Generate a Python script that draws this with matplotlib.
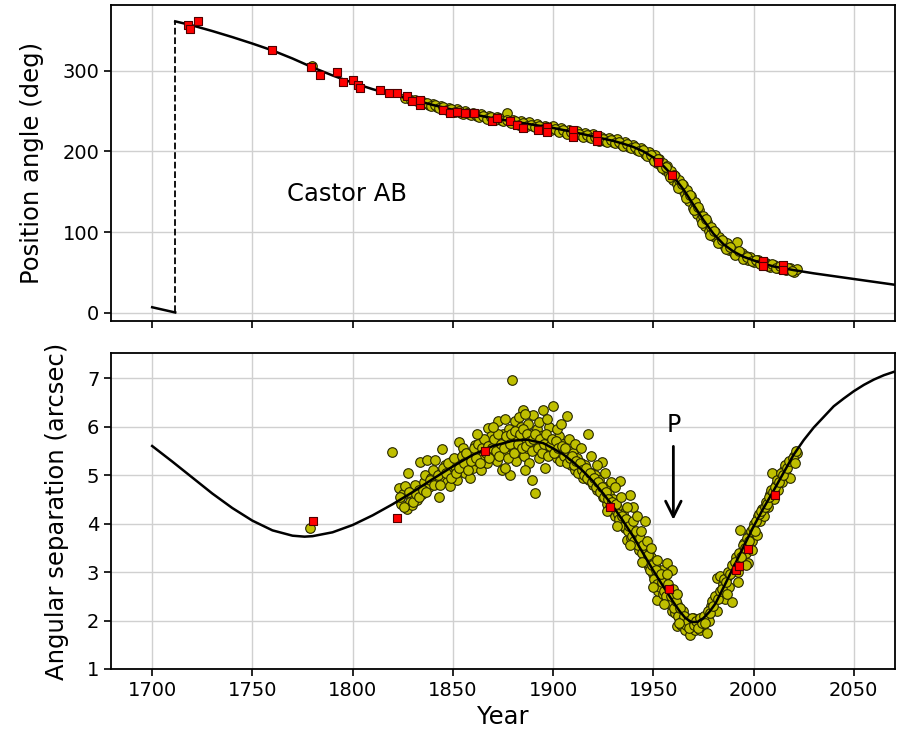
import matplotlib
matplotlib.use('Agg')
import matplotlib.pyplot as plt

# orbit curve: position angle (deg)
pa_wrap_year = [1700, 1711.5]
pa_wrap = [7, 0.5]
pa_jump = [0.5, 360.5]
orb_year = [1711.5, 1720, 1730, 1740, 1750, 1760, 1770, 1780, 1790, 1800, 1810, 1820,
            1830, 1840, 1850, 1860, 1870, 1880, 1890, 1900, 1910, 1920, 1930, 1935,
            1940, 1945, 1950, 1955, 1960, 1965, 1970, 1975, 1980, 1985, 1990, 1995,
            2000, 2005, 2010, 2020, 2030, 2040, 2050, 2060, 2070]
orb_pa = [361, 356, 349, 341.5, 333.5, 325, 315, 304, 294, 285, 277, 270,
          264, 257.5, 251.5, 246, 241, 237, 233, 229, 224, 218.5, 213, 209.5,
          205.5, 200, 192.5, 182, 169, 153, 134, 115, 98, 85, 76, 69.5,
          65, 61, 57.5, 53, 49, 45.5, 42, 38.5, 35]

# orbit curve: separation (arcsec)
sep_year = [1700, 1710, 1720, 1730, 1740, 1750, 1760, 1770, 1776, 1780, 1790, 1800,
            1810, 1820, 1830, 1840, 1850, 1860, 1870, 1880, 1887, 1895, 1900, 1905,
            1910, 1915, 1920, 1925, 1930, 1935, 1940, 1945, 1950, 1955, 1960, 1963,
            1966, 1969, 1972, 1975, 1978, 1981, 1985, 1990, 1995, 2000, 2005, 2010,
            2015, 2020, 2025, 2030, 2035, 2040, 2045, 2050, 2055, 2060, 2065, 2070]
orb_sep = [5.60, 5.28, 4.95, 4.62, 4.32, 4.06, 3.86, 3.75, 3.73, 3.74, 3.82, 3.97,
           4.17, 4.40, 4.65, 4.92, 5.18, 5.42, 5.60, 5.71, 5.73, 5.66, 5.55, 5.43,
           5.27, 5.08, 4.87, 4.62, 4.35, 4.05, 3.73, 3.38, 3.03, 2.70, 2.38, 2.20,
           2.05, 1.97, 1.97, 2.05, 2.18, 2.35, 2.68, 3.10, 3.52, 3.94, 4.32, 4.68,
           5.05, 5.42, 5.72, 5.98, 6.20, 6.42, 6.58, 6.73, 6.86, 6.97, 7.06, 7.13]

# micrometer measures (yellow) - position angle
obs_pa_year = [1779.5, 1832, 1835, 1838, 1840, 1842, 1844, 1846, 1848, 1850, 1852, 1854,
               1856, 1858, 1860, 1862, 1864, 1866, 1868, 1870, 1872, 1874, 1876.9, 1878,
               1880, 1882, 1884, 1886, 1888, 1890, 1892, 1894, 1896, 1898, 1900, 1902,
               1904, 1906, 1908, 1910, 1912, 1914, 1916, 1918, 1920, 1922, 1924, 1926,
               1928, 1930, 1932, 1934, 1936, 1938, 1940, 1942, 1944, 1946, 1948, 1950,
               1951, 1952, 1953, 1954, 1955, 1956, 1957, 1958, 1959, 1960, 1961, 1962,
               1963, 1964, 1965, 1966, 1967, 1968, 1969, 1970, 1971, 1972, 1973, 1974,
               1975, 1976, 1977, 1978, 1979, 1980, 1981, 1982, 1983, 1984, 1985, 1986,
               1987, 1988, 1989, 1990, 1991.6, 1992, 1993, 1994, 1995, 1996, 1997, 1998,
               2000, 2002, 2004, 2006, 2008, 2010, 2012, 2014, 2016, 2018, 2020, 2021.5,
               1826, 1829, 1831, 1834, 1837, 1839, 1841, 1843, 1845, 1847, 1849, 1851,
               1853, 1855, 1857, 1859, 1861, 1863, 1865, 1867, 1869, 1871, 1873, 1875,
               1877, 1879, 1881, 1883, 1885, 1887, 1889, 1891, 1893, 1895, 1897, 1899,
               1901, 1903, 1905, 1907, 1909, 1911, 1913, 1915, 1917, 1919, 1921, 1923,
               1925, 1927, 1929, 1931, 1933, 1935, 1937, 1939, 1941, 1943, 1945, 1947,
               1949, 1950.5, 1952.5, 1954.5, 1956.5, 1958.5, 1960.5, 1962.5, 1964.5, 1966.5,
               1968.5, 1970.5, 1972.5, 1974.5, 1976.5, 1978.5, 1980.5, 1982.5, 1984.5, 1986.5,
               1988.5, 1990.5, 1992.5, 1994.5, 1996.5, 1999, 2001, 2003, 2005, 2007,
               2009, 2011, 2013, 2015, 2017, 2019]
obs_pa = [306, 262, 261, 258, 259, 255, 256, 253, 254, 250, 252, 248,
          250, 246, 248, 244, 246, 242, 244, 240, 243, 239, 247, 238,
          239, 235, 237, 233, 236, 231, 234, 230, 232, 227, 231, 227,
          229, 224, 227, 222, 225, 220, 223, 218, 221, 215, 218, 213,
          217, 211, 215, 209, 212, 205, 208, 202, 204, 197, 199, 190,
          195, 186, 190, 182, 186, 177, 182, 172, 176, 165, 170, 160,
          164, 153, 158, 147, 152, 139, 145, 130, 137, 123, 128, 116,
          120, 108, 112, 102, 106, 95, 100, 91, 94, 86, 89, 82,
          86, 78, 81, 74, 88, 75, 72, 74, 68, 71, 66, 69,
          63, 65, 60, 62, 57, 59, 55, 57, 53, 55, 51, 54,
          266, 263, 264, 259, 260, 256, 257, 254, 255, 251, 252, 249,
          250, 246, 248, 245, 246, 243, 244, 240, 242, 239, 241, 237,
          239, 235, 237, 233, 235, 232, 233, 230, 232, 228, 230, 226,
          228, 224, 226, 222, 224, 220, 222, 218, 220, 216, 218, 213,
          215, 211, 214, 210, 212, 207, 209, 204, 206, 200, 202, 194,
          196, 188, 190, 180, 181, 168, 171, 155, 160, 142,
          146, 128, 131, 111, 116, 96, 101, 86, 90, 79,
          82, 72, 77, 67, 69, 64, 66, 61, 63, 58,
          60, 56, 58, 54, 56, 52]

# micrometer measures (yellow) - separation
obs_sep_year = [1778.8, 1819.6, 1822.9, 1824.0, 1825.0, 1826.2, 1827.0, 1827.8, 1828.5, 1829.5,
                1830.5, 1831.0, 1832.0, 1833.0, 1833.7, 1834.5, 1835.5, 1836.0, 1837.0, 1838.0,
                1839.0, 1840.0, 1841.1, 1842.0, 1843.3, 1844.0, 1844.5, 1845.5, 1846.0, 1847.0,
                1848.0, 1848.6, 1849.5, 1850.0, 1851.0, 1852.0, 1853.3, 1854.0, 1855.3, 1856.0,
                1857.0, 1858.0, 1858.6, 1859.5, 1860.0, 1861.1, 1862.0, 1863.0, 1864.0, 1865.0,
                1866.0, 1867.0, 1867.7, 1868.5, 1869.0, 1870.0, 1871.0, 1872.0, 1872.7, 1873.5,
                1874.4, 1875.0, 1876.0, 1877.0, 1878.0, 1878.6, 1879.4, 1880.0, 1881.0, 1881.5,
                1882.0, 1883.0, 1884.0, 1884.9, 1885.5, 1886.0, 1887.0, 1887.5, 1888.0, 1889.0,
                1889.4, 1890.2, 1891.0, 1891.5, 1892.0, 1893.0, 1894.0, 1895.2, 1896.0, 1897.0,
                1898.0, 1899.0, 1900.1, 1901.0, 1902.0, 1903.0, 1904.0, 1905.0, 1906.8, 1907.5,
                1908.0, 1909.0, 1910.0, 1911.0, 1912.0, 1913.0, 1914.0, 1915.0, 1916.0, 1917.6,
                1918.0, 1919.0, 1920.0, 1921.0, 1922.0, 1923.0, 1924.3, 1925.0, 1926.0, 1927.0,
                1928.0, 1929.0, 1930.0, 1931.0, 1932.0, 1933.4, 1934.0, 1935.0, 1936.0, 1936.7,
                1937.0, 1938.4, 1939.0, 1940.0, 1941.0, 1942.0, 1943.0, 1944.0, 1945.9, 1946.0,
                1947.0, 1948.0, 1949.0, 1950.0, 1951.0, 1951.6, 1952.5, 1953.0, 1954.2, 1955.0,
                1956.0, 1956.7, 1957.0, 1958.0, 1959.2, 1959.5, 1960.0, 1961.0, 1961.6, 1962.0,
                1963.0, 1964.0, 1965.0, 1966.0, 1966.7, 1967.0, 1968.3, 1969.0, 1970.0, 1971.0,
                1972.0, 1973.3, 1974.0, 1975.0, 1976.6, 1977.0, 1978.0, 1979.0, 1979.9, 1980.5,
                1981.6, 1982.0, 1983.3, 1984.0, 1985.0, 1986.0, 1987.0, 1988.0, 1989.1, 1990.0,
                1991.0, 1992.0, 1993.3, 1994.0, 1995.0, 1996.0, 1997.4, 1998.0, 1999.0, 2000.0,
                2001.6, 2002.0, 2003.0, 2004.0, 2005.0, 2006.0, 2007.0, 2008.0, 2009.0, 2010.0,
                2011.0, 2012.0, 2013.0, 2014.0, 2015.0, 2016.0, 2017.0, 2018.2, 2019.0, 2020.0,
                2021.5,
                1823.5, 1825.5, 1828.0, 1830.0, 1831.5, 1833.0, 1835.0, 1836.5, 1838.5, 1840.5,
                1842.5, 1843.5, 1845.0, 1846.5, 1847.5, 1849.0, 1850.5, 1851.5, 1853.0, 1854.5,
                1855.5, 1856.5, 1857.5, 1859.0, 1860.5, 1861.5, 1862.5, 1863.5, 1864.5, 1865.5,
                1866.5, 1867.5, 1868.0, 1869.5, 1870.5, 1871.5, 1872.5, 1873.0, 1874.0, 1875.5,
                1876.5, 1877.5, 1878.5, 1879.0, 1880.5, 1881.0, 1882.5, 1883.5, 1884.5, 1885.0,
                1886.5, 1887.0, 1888.5, 1889.5, 1890.0, 1891.0, 1892.5, 1893.5, 1894.5, 1895.5,
                1896.5, 1897.5, 1898.5, 1899.5, 1900.5, 1901.5, 1902.5, 1903.5, 1904.5, 1905.5,
                1906.0, 1907.0, 1908.5, 1909.5, 1910.5, 1911.5, 1912.5, 1913.5, 1914.5, 1915.5,
                1916.5, 1917.0, 1918.5, 1919.5, 1920.5, 1921.5, 1922.5, 1923.5, 1924.5, 1925.5,
                1926.5, 1927.5, 1928.5, 1929.5, 1930.5, 1931.5, 1932.5, 1933.0, 1934.5, 1935.5,
                1936.5, 1937.5, 1938.0, 1939.5, 1940.5, 1941.5, 1942.5, 1943.5, 1944.5, 1945.0,
                1946.5, 1947.5, 1948.5, 1949.5, 1950.5, 1951.5, 1952.0, 1953.5, 1954.5, 1955.5,
                1956.5, 1957.5, 1958.5, 1959.0, 1960.5, 1961.5, 1962.5, 1963.5, 1964.5, 1965.5,
                1966.5, 1967.5, 1968.0, 1969.5, 1970.5, 1971.5, 1972.5, 1973.5, 1974.5, 1975.5,
                1976.0, 1977.5, 1978.5, 1979.5, 1980.0, 1981.0, 1982.5, 1983.5, 1984.5, 1985.5,
                1986.5, 1987.5, 1988.5, 1989.5, 1990.5, 1991.5, 1992.5, 1993.5, 1994.5, 1995.5,
                1996.5, 1997.5, 1998.5, 1999.5, 2000.5, 2001.0, 2002.5, 2003.5, 2005.5, 2006.5,
                2007.5, 2008.5, 2009.5, 2010.5, 2011.5, 2012.5, 2013.5, 2014.5, 2015.5, 2016.5,
                2017.5, 2019.5, 2020.5, 2021.0,
                1902.0, 1904.0, 1908.0, 1911.0, 1914.0, 1919.0, 1922.0, 1926.0, 1929.0, 1931.0,
                1934.0, 1937.0, 1940.0, 1942.0, 1944.0, 1947.0, 1949.0, 1952.0, 1954.0, 1957.0,
                1960.0, 1962.0, 1944.5, 1938.5, 1932.0, 1927.0, 1950.0, 1955.5, 1963.0, 1987.0,
                1992.0, 1996.0, 1999.0, 1862.0, 1870.0, 1876.0, 1883.0, 1886.0, 1893.0, 1897.0,
                1876.0, 1886.0, 1896.0]
obs_sep = [3.91, 5.47, 4.73, 4.40, 4.62, 4.77, 4.30, 5.04, 4.45, 4.39,
           4.58, 4.80, 4.49, 4.70, 5.28, 4.62, 4.85, 5.00, 5.32, 4.75,
           4.95, 5.10, 5.32, 4.88, 4.55, 5.05, 5.54, 4.95, 5.20, 4.85,
           5.10, 4.77, 5.30, 5.00, 5.18, 4.90, 5.69, 5.25, 5.56, 5.05,
           5.35, 5.20, 4.94, 5.45, 5.15, 5.62, 5.30, 5.50, 5.10, 5.40,
           5.65, 5.25, 5.97, 5.50, 5.80, 5.40, 5.65, 5.30, 6.11, 5.55,
           5.11, 5.85, 5.45, 5.70, 5.95, 5.00, 6.96, 5.60, 6.11, 5.30,
           5.80, 5.50, 6.00, 6.35, 5.40, 5.75, 5.55, 6.05, 5.25, 5.85,
           4.90, 6.24, 4.63, 5.60, 5.95, 5.35, 5.80, 6.35, 5.50, 5.70,
           6.00, 5.45, 6.43, 5.60, 5.35, 5.80, 5.45, 5.65, 6.21, 5.30,
           5.50, 5.20, 5.45, 5.10, 5.35, 5.15, 5.25, 4.95, 5.20, 5.85,
           4.90, 5.05, 4.80, 5.00, 4.70, 4.90, 5.28, 4.55, 4.75, 4.40,
           4.60, 4.25, 4.50, 4.15, 4.35, 4.87, 4.05, 4.20, 3.90, 3.67,
           4.05, 4.59, 3.70, 4.35, 3.60, 3.80, 3.45, 3.60, 4.06, 3.30,
           3.40, 3.10, 3.30, 2.95, 3.15, 2.43, 2.60, 2.90, 3.05, 2.55,
           2.80, 3.19, 2.45, 2.60, 3.05, 2.20, 2.45, 2.15, 1.88, 2.35,
           2.05, 1.90, 2.20, 1.80, 1.95, 2.05, 1.71, 1.90, 2.05, 1.80,
           1.95, 1.81, 2.05, 1.90, 1.75, 2.10, 2.00, 2.30, 2.22, 2.45,
           2.88, 2.20, 2.91, 2.50, 2.75, 2.45, 2.90, 2.70, 2.39, 3.05,
           3.30, 3.00, 3.87, 3.35, 3.60, 3.40, 3.19, 3.80, 3.65, 4.00,
           3.77, 4.15, 4.05, 4.30, 4.15, 4.45, 4.35, 4.60, 5.04, 4.50,
           4.80, 4.70, 4.95, 4.85, 5.10, 5.00, 5.25, 4.94, 5.30, 5.40,
           5.45,
           4.55, 4.35, 4.65, 4.45, 4.60, 4.55, 4.70, 4.65, 4.90, 4.80,
           5.00, 4.80, 5.15, 5.05, 5.25, 4.95, 5.35, 5.05, 5.15, 5.40,
           5.25, 5.45, 5.10, 5.30, 5.55, 5.35, 5.65, 5.25, 5.55, 5.75,
           5.45, 5.60, 5.35, 5.55, 5.75, 5.50, 5.85, 5.40, 5.65, 5.55,
           5.80, 5.35, 5.65, 5.85, 5.45, 5.90, 5.65, 5.85, 5.55, 5.95,
           5.60, 5.85, 5.70, 5.50, 5.75, 5.85, 5.55, 5.75, 5.45, 5.65,
           5.85, 5.40, 5.60, 5.75, 5.45, 5.70, 5.55, 5.30, 5.60, 5.40,
           5.55, 5.25, 5.35, 5.40, 5.20, 5.30, 5.05, 5.25, 5.10, 5.00,
           5.15, 4.95, 5.05, 4.85, 4.95, 4.75, 4.85, 4.65, 4.75, 4.55,
           4.65, 4.50, 4.35, 4.45, 4.30, 4.40, 4.20, 4.10, 4.15, 3.95,
           4.10, 3.85, 3.95, 3.75, 3.65, 3.85, 3.55, 3.70, 3.40, 3.55,
           3.20, 3.35, 3.05, 3.15, 2.85, 3.05, 2.75, 2.70, 2.80, 2.60,
           2.50, 2.75, 2.35, 2.50, 2.25, 2.40, 2.10, 2.25, 2.00, 2.10,
           1.90, 2.00, 1.85, 2.05, 1.90, 2.00, 1.85, 2.05, 1.95, 2.10,
           1.95, 2.20, 2.15, 2.40, 2.30, 2.50, 2.45, 2.60, 2.65, 2.85,
           2.80, 3.00, 2.95, 3.15, 3.20, 3.10, 3.40, 3.30, 3.55, 3.50,
           3.70, 3.65, 3.85, 3.90, 3.85, 4.05, 4.20, 4.25, 4.35, 4.40,
           4.55, 4.70, 4.65, 4.75, 4.90, 4.85, 5.05, 5.00, 5.20, 5.15,
           5.30, 5.35, 5.25, 5.50,
           5.95, 6.05, 5.75, 5.65, 5.55, 5.40, 5.20, 5.05, 4.85, 4.75,
           4.55, 4.35, 4.05, 4.15, 3.85, 3.65, 3.50, 3.25, 2.95, 2.95,
           2.65, 2.55, 3.20, 3.55, 3.95, 4.25, 2.70, 2.35, 1.95, 2.55,
           2.80, 3.15, 3.45, 5.85, 6.00, 6.15, 6.20, 6.25, 6.10, 6.15,
           5.15, 5.10, 5.15]

# other measures (red squares)
red_pa_year = [1718.1, 1718.9, 1723.1, 1759.7, 1779.1, 1783.8, 1792.1, 1795.4, 1800.4, 1802.9,
               1803.7, 1813.7, 1817.9, 1822.0, 1827.0, 1829.5, 1833.7, 1833.7, 1845.3, 1848.6,
               1852.0, 1856.1, 1860.3, 1869.4, 1871.9, 1878.6, 1881.9, 1885.2, 1892.7, 1896.9,
               1896.9, 1910.1, 1910.1, 1921.8, 1921.8, 1952.5, 1959.2, 2004.9, 2004.9, 2014.9,
               2014.9]
red_pa = [356, 352, 362, 325.5, 305, 294.5, 298.5, 286, 288, 282,
          278, 276, 272, 272, 268, 262, 257.5, 264, 251, 247,
          249, 247, 247, 237, 241, 237, 233, 229, 226.5, 230.5,
          224.5, 226, 218, 220, 213, 187, 171, 63.8, 57.6, 59.7,
          52.7]
red_sep_year = [1780.0, 1822.3, 1866.0, 1928.4, 1957.8, 1991.0, 1992.9, 1997.4, 2010.8]
red_sep = [4.05, 4.12, 5.49, 4.34, 2.65, 3.05, 3.13, 3.48, 4.59]

fig = plt.figure(figsize=(9.03, 7.43), dpi=100)
ax1 = fig.add_axes([0.123, 0.568, 0.868, 0.425])
ax2 = fig.add_axes([0.123, 0.0996, 0.868, 0.4254], sharex=ax1)

yel = dict(marker='o', s=48, c='y', edgecolors='#262600', linewidths=0.8, zorder=2)
red = dict(marker='s', s=40, c='r', edgecolors='#500000', linewidths=0.8, zorder=4)

# top panel
ax1.scatter(obs_pa_year, obs_pa, **yel)
ax1.plot(pa_wrap_year, pa_wrap, 'k-', lw=1.8, zorder=3)
ax1.plot([pa_wrap_year[-1], pa_wrap_year[-1]], pa_jump, 'k--', lw=1.3, zorder=3)
ax1.plot(orb_year, orb_pa, 'k-', lw=1.8, zorder=3)
ax1.scatter(red_pa_year, red_pa, **red)
ax1.text(1797, 147, 'Castor AB', fontsize=17.5, ha='center', va='center')
ax1.set_ylim(-10, 381)
ax1.set_yticks([0, 100, 200, 300])
ax1.set_ylabel('Position angle (deg)', fontsize=17.5, labelpad=13)
ax1.tick_params(labelbottom=False)

# bottom panel
ax2.scatter(obs_sep_year, obs_sep, **yel)
ax2.plot(sep_year, orb_sep, 'k-', lw=1.8, zorder=3)
ax2.scatter(red_sep_year, red_sep, **red)
ax2.text(1960.3, 6.04, 'P', fontsize=17, ha='center', va='center')
ax2.annotate('', xy=(1960, 4.02), xytext=(1960, 5.65),
             arrowprops=dict(arrowstyle='->', lw=2, color='k', mutation_scale=28))
ax2.set_ylim(1, 7.52)
ax2.set_yticks([1, 2, 3, 4, 5, 6, 7])
ax2.set_ylabel('Angular separation (arcsec)', fontsize=17.5, labelpad=13)
ax2.set_xlabel('Year', fontsize=17.5)
ax2.set_xlim(1679.5, 2070.5)
ax2.set_xticks([1700, 1750, 1800, 1850, 1900, 1950, 2000, 2050])

for ax in (ax1, ax2):
    ax.grid(True, color='#d0d0d0', lw=1)
    ax.set_axisbelow(True)
    ax.tick_params(labelsize=14, length=5, width=1.2)
    for sp in ax.spines.values():
        sp.set_linewidth(1.3)

fig.savefig('out.png', dpi=100)
